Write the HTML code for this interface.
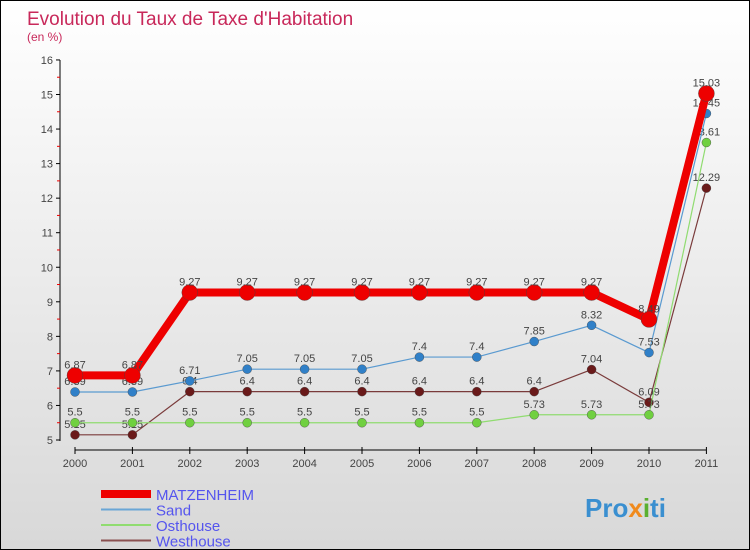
<!DOCTYPE html>
<html><head><meta charset="utf-8"><style>
body{margin:0}
#c{width:748px;height:548px;border:1px solid #000;background:linear-gradient(#ffffff,#d8d8d8);position:relative;font-family:"Liberation Sans",sans-serif;overflow:hidden}
</style></head><body>
<div id="c">
<svg id="s" width="748" height="548" xmlns="http://www.w3.org/2000/svg">
<text x="26" y="24" font-size="19" fill="#c8285a">Evolution du Taux de Taxe d'Habitation</text>
<text x="26" y="40" font-size="12" fill="#c8285a">(en %)</text>
<g id="g"></g>
<text x="584" y="516" font-size="26" font-weight="bold" fill="#3a8fd0">Pro<tspan fill="#f08a1c">x</tspan><tspan fill="#5ab030">i</tspan>ti</text>
</svg></div>
<script>
const years=[2000,2001,2002,2003,2004,2005,2006,2007,2008,2009,2010,2011];
const yTicks=[5,6,7,8,9,10,11,12,13,14,15,16];
const seriesNames=["MATZENHEIM","Sand","Osthouse","Westhouse"];
const matz=[6.87,6.87,9.27,9.27,9.27,9.27,9.27,9.27,9.27,9.27,8.49,15.03];
const sand=[6.39,6.39,6.71,7.05,7.05,7.05,7.4,7.4,7.85,8.32,7.53,14.45];
const ost=[5.5,5.5,5.5,5.5,5.5,5.5,5.5,5.5,5.73,5.73,5.73,13.61];
const west=[5.15,5.15,6.4,6.4,6.4,6.4,6.4,6.4,6.4,7.04,6.09,12.29];
const NS="http://www.w3.org/2000/svg";
const g=document.getElementById('g');
const xS=i=>74+i*57.4;
const yS=v=>439-(v-5)*34.55;
function mk(t,a,p){const e=document.createElementNS(NS,t);for(const k in a)e.setAttribute(k,a[k]);(p||g).appendChild(e);return e;}
let ax=mk('line',{x1:59,y1:59,x2:59,y2:440,stroke:'#000'});


yTicks.forEach(v=>{
 mk('line',{x1:55,x2:59,y1:yS(v),y2:yS(v),stroke:'#000'});
 if(v<16)mk('line',{x1:56,x2:59,y1:yS(v+0.5),y2:yS(v+0.5),stroke:'#e00'});
 const t=mk('text',{x:52,y:yS(v)+4,'font-size':11,fill:'#444','text-anchor':'end'});t.textContent=v;
 
 
});
let xa=mk('line',{x1:xS(0),y1:449,x2:xS(11),y2:449,stroke:'#000'});


years.forEach((y,i)=>{
 mk('line',{x1:xS(i),x2:xS(i),y1:446,y2:453,stroke:'#000'});
 const t=mk('text',{x:xS(i),y:466,'font-size':11,fill:'#444','text-anchor':'middle'});t.textContent=y;
 
 
});
const defs=[[west,'#7a3b3b','#6a1a1a',1.2,4.5],[ost,'#90dc70','#70d040',1.2,4.5],[sand,'#5a9ad0','#3080c8',1.2,4.5],[matz,'#ee0000','#ee0000',8,8]];
const slugs={MATZENHEIM:'matzenheim',Sand:'sand',Osthouse:'osthouse',Westhouse:'westhouse'};
const order=[3,2,1,0];
defs.forEach((d,k)=>{
 const nm=slugs[seriesNames[order[k]]];
 const pl=mk('polyline',{points:d[0].map((v,i)=>xS(i)+','+yS(v)).join(' '),fill:'none',stroke:d[1],'stroke-width':d[3]});
 
 
 d[0].forEach((v,i)=>{
  const c=mk('circle',{cx:xS(i),cy:yS(v),r:d[4],fill:d[2],stroke:'#444','stroke-width':0.4});
  
  
  const t=mk('text',{x:xS(i),y:yS(v)-7,'font-size':11,fill:'#444','text-anchor':'middle'});t.textContent=v;
  
  
 });
});
const lc=['#ee0000','#6aa6d6','#90dc70','#8a5050'];const lw=[8,2,2,2];
seriesNames.forEach((n,i)=>{
 const y=493+i*15.5;
 const l=mk('line',{x1:100,x2:150,y1:y,y2:y,stroke:lc[i],'stroke-width':lw[i]});
 
 
 const t=mk('text',{x:155,y:y+6,'font-size':15,fill:'#5555ee'});t.textContent=n;
 
 
});
</script>
</body></html>
